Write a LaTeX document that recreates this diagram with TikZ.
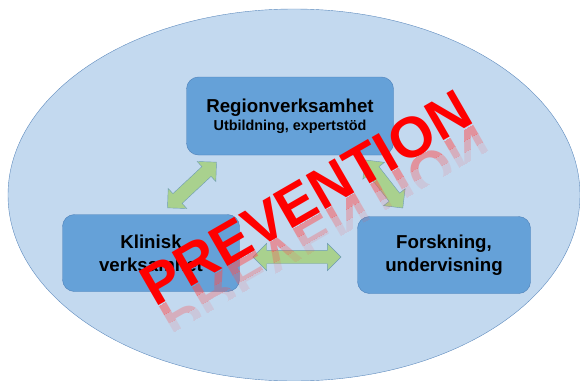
\documentclass[tikz,border=0pt]{standalone}
\usepackage{fontspec}
\setmainfont{Liberation Sans}
\usetikzlibrary{shapes.arrows}
\definecolor{oval}{HTML}{C3D9EF}
\definecolor{ovalline}{HTML}{5F8BBE}
\definecolor{boxfill}{HTML}{65A1D8}
\definecolor{boxline}{HTML}{4C7FB8}
\definecolor{linkfill}{HTML}{A9D18E}
\definecolor{linkline}{HTML}{6E9CB4}

\begin{document}
\begin{tikzpicture}[x=1pt, y=-1pt,
    unit/.style={draw=boxline, fill=boxfill, rounded corners=12pt, align=center,
      font=\bfseries\fontsize{18.7}{23}\selectfont, inner sep=0pt},
    link/.style={double arrow, draw=linkline, fill=linkfill, inner xsep=0pt, inner ysep=6.5pt,
      double arrow head extend=7pt},
    stamp/.style={font=\bfseries\fontsize{57}{57}\selectfont, text=red}]

  \useasboundingbox (0,0) rectangle (580,380);
  \draw[ovalline, fill=oval] (294,195) ellipse [x radius=286, y radius=186];

  \node[unit, minimum width=207pt, minimum height=78pt] (region) at (290,116)
    {Regionverksamhet\\[-5pt]{\fontsize{14.4}{17}\selectfont Utbildning, expertstöd}};
  \node[unit, minimum width=177pt, minimum height=77pt] (klin) at (151,253)
    {Klinisk\\verksamhet};
  \node[unit, minimum width=173pt, minimum height=77pt] (forsk) at (444,255)
    {Forskning,\\undervisning};

  % links between the units
  \node[link, minimum height=67pt, rotate=43]  (link1) at (192,185) {};
  \node[link, minimum height=61pt, rotate=-52] (link2) at (384,184) {};
  \node[link, minimum height=88pt]             (link3) at (297,257) {};

  % stamp with its fading mirror image
  \coordinate (base) at (316,215);
  \begin{scope}[shift={(base)}, rotate=30, transform shape]
    \foreach \from/\to/\op in {0/10/.5, 10/20/.3, 20/30/.12} {
      \begin{scope}
        \clip (-260,\from) rectangle (260,\to);
        \node[stamp, yscale=-1, text=red!70, opacity=\op, anchor=base] at (0,0) {PREVENTION};
      \end{scope}
    }
    \node[stamp, anchor=base] (prev) at (0,0) {PREVENTION};
  \end{scope}

\end{tikzpicture}
\end{document}
